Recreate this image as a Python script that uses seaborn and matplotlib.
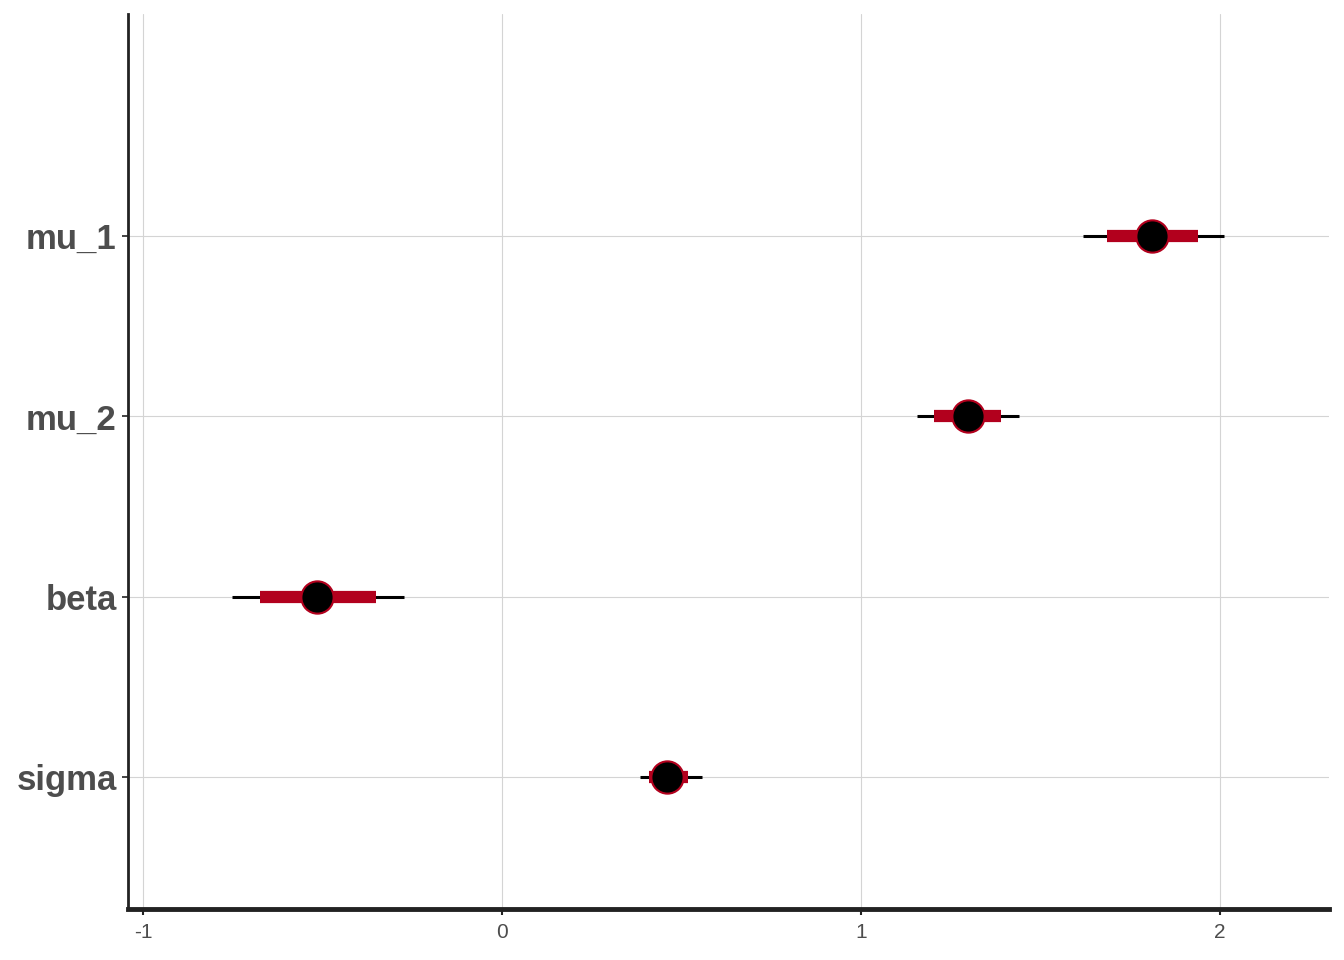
import pandas as pd
import numpy as np

import matplotlib
matplotlib.use("Agg")
import matplotlib.pyplot as plt
import seaborn as sns


# parametres i intervals (llegits del grafic)
params = ["mu_1", "mu_2", "beta", "sigma"]
medians = [1.811, 1.298, -0.515, 0.460]
inner_lo = [1.685, 1.204, -0.674, 0.411]
inner_hi = [1.939, 1.390, -0.351, 0.518]
outer_lo = [1.618, 1.156, -0.752, 0.385]
outer_hi = [2.013, 1.440, -0.273, 0.557]
x_ticks = [-1, 0, 1, 2]

red = "#B2001D"

df = pd.DataFrame({
    "param": params,
    "m": medians,
    "ll": outer_lo, "l": inner_lo, "h": inner_hi, "hh": outer_hi,
})
df["pos"] = np.arange(len(params))[::-1]

sns.set_style("white")
plt.rcParams["font.family"] = ["Liberation Sans", "DejaVu Sans"]

fig = plt.figure(figsize=(13.44, 9.6), dpi=100)
ax = fig.add_axes([0.0952, 0.0531, 0.8936, 0.9323])

# grid manual (com ggplot)
for x in x_ticks:
    ax.axvline(x, color="#D4D4D4", lw=0.8, zorder=0)
for y in df["pos"]:
    ax.axhline(y, color="#D4D4D4", lw=0.8, zorder=0)

ax.hlines(df["pos"], df["ll"], df["hh"], color="black", lw=2.2, zorder=2)
ax.hlines(df["pos"], df["l"], df["h"], color=red, lw=8.8, zorder=3)
sns.scatterplot(data=df, x="m", y="pos", s=540, color="black",
                edgecolor=red, linewidth=1.5, zorder=4, ax=ax, legend=False)

ax.set_xlim(-1.042, 2.304)
ax.set_ylim(-0.73, 3 + 1.23)
ax.set_xticks(x_ticks)
ax.set_xticklabels([str(t) for t in x_ticks])
ax.set_yticks(df["pos"])
ax.set_yticklabels(df["param"], fontsize=25, fontweight="bold", color="#4D4D4D")
ax.tick_params(axis="x", labelsize=15, labelcolor="#4D4D4D", length=4,
               width=1.5, color="#222222", direction="out", bottom=True, pad=6)
ax.tick_params(axis="y", length=4, width=1.2, color="#222222", left=True, pad=4)
ax.set_xlabel("")
ax.set_ylabel("")

for s in ["top", "right"]:
    ax.spines[s].set_visible(False)
ax.spines["left"].set_linewidth(2)
ax.spines["left"].set_color("#222222")
ax.spines["bottom"].set_linewidth(3.5)
ax.spines["bottom"].set_color("#222222")

fig.savefig("out.png", dpi=100)
